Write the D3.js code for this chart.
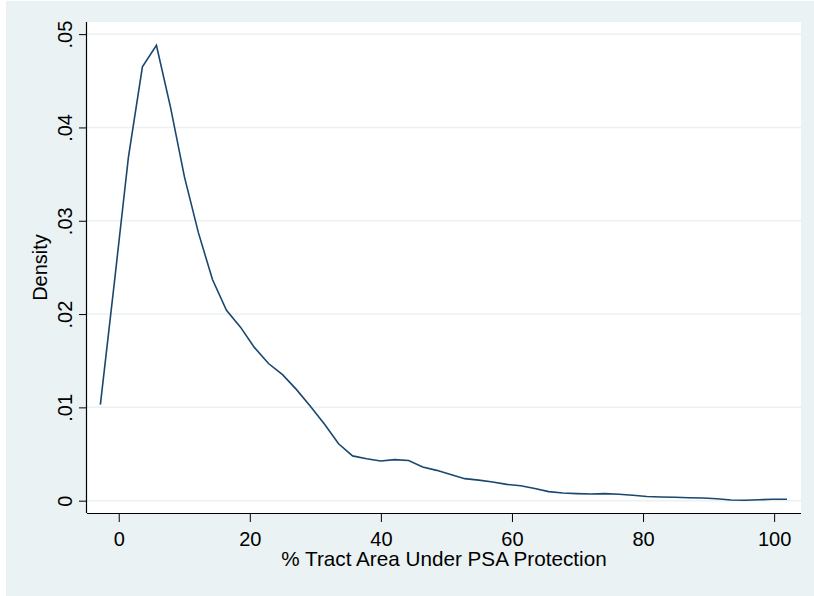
<!DOCTYPE html>
<html>
<head>
<meta charset="utf-8">
<script src="https://cdn.jsdelivr.net/npm/d3@7"></script>
<style>
  html, body { margin: 0; padding: 0; background: #ffffff; }
  svg { display: block; }
  text { font-family: Arial, "Liberation Sans", sans-serif; fill: #000; }
</style>
</head>
<body>
<svg id="chart" width="814" height="596"></svg>
<script>
// Kernel density of tract area share under PSA protection, 50 evaluation points
const xStart = -2.8;
const xEnd = 101.96;
const densityValues = [
  0.0103, 0.0234, 0.0368, 0.0465, 0.0488, 0.0422, 0.0347, 0.0287, 0.0237, 0.0204,
  0.0186, 0.0164, 0.0147, 0.0135, 0.0119, 0.0101, 0.0082, 0.0061, 0.0048, 0.0045,
  0.00425, 0.0044, 0.0043, 0.0036, 0.00325, 0.0028, 0.00236, 0.0022, 0.0020, 0.00175,
  0.0016, 0.0013, 0.00097, 0.00083, 0.00076, 0.00072, 0.00076, 0.00069, 0.00058, 0.00045,
  0.0004, 0.00036, 0.00032, 0.00029, 0.00021, 0.00008, 0.00004, 0.0001, 0.00015, 0.00015
];
const xTicks = [0, 20, 40, 60, 80, 100];
const yTicks = [0, 0.01, 0.02, 0.03, 0.04, 0.05];
const yTickLabels = ["0", ".01", ".02", ".03", ".04", ".05"];
const xTitle = "% Tract Area Under PSA Protection";
const yTitle = "Density";

const step = (xEnd - xStart) / (densityValues.length - 1);
const points = densityValues.map((d, i) => ({ x: xStart + i * step, y: d }));

const svg = d3.select("#chart");
const W = 814, H = 596;
const plot = { left: 87, right: 801, top: 22, bottom: 513 };
const font = "Arial, 'Liberation Sans', sans-serif";

// graph region background
svg.append("rect").attr("x", 6).attr("y", 1).attr("width", W - 6).attr("height", H - 1)
  .attr("fill", "#eaf2f3");
// plot region
svg.append("rect").attr("x", plot.left).attr("y", plot.top)
  .attr("width", plot.right - plot.left).attr("height", plot.bottom - plot.top)
  .attr("fill", "#ffffff");

const x = d3.scaleLinear().domain([-4.84, 104.1]).range([plot.left, plot.right]);
const y = d3.scaleLinear().domain([-0.00132, 0.0513]).range([plot.bottom, plot.top]);

// horizontal gridlines
svg.append("g").selectAll("line").data(yTicks).join("line")
  .attr("x1", plot.left).attr("x2", plot.right)
  .attr("y1", d => y(d)).attr("y2", d => y(d))
  .attr("stroke", "#eaf2f3").attr("stroke-width", 1.5);

// density curve
const line = d3.line().x(d => x(d.x)).y(d => y(d.y));
svg.append("path").datum(points)
  .attr("d", line)
  .attr("fill", "none")
  .attr("stroke", "#1a476f")
  .attr("stroke-width", 1.6)
  .attr("stroke-linejoin", "miter");

// x axis
const xAxis = d3.axisBottom(x).tickValues(xTicks).tickSize(9).tickFormat(d3.format("d"));
const gx = svg.append("g").attr("transform", `translate(0,${plot.bottom})`).call(xAxis);
gx.select(".domain").attr("d", `M${plot.left},0.5H${plot.right}`).attr("stroke", "#000").attr("stroke-width", 1.2);
gx.selectAll(".tick line").attr("stroke", "#000").attr("stroke-width", 1);
gx.selectAll(".tick text")
  .attr("y", 33).attr("dy", null)
  .attr("font-size", 20).attr("font-family", font).attr("fill", "#000");

// y axis with rotated labels
const yAxis = d3.axisLeft(y).tickValues(yTicks).tickSize(8).tickFormat((d, i) => yTickLabels[i]);
const gy = svg.append("g").attr("transform", `translate(${plot.left},0)`).call(yAxis);
gy.select(".domain").attr("d", `M-0.5,${plot.top}V${plot.bottom}`).attr("stroke", "#000").attr("stroke-width", 1.2);
gy.selectAll(".tick line").attr("stroke", "#000").attr("stroke-width", 1);
gy.selectAll(".tick text")
  .attr("x", null).attr("dy", null)
  .attr("transform", "translate(-15.3,0) rotate(-90)")
  .attr("text-anchor", "middle")
  .attr("font-size", 20).attr("font-family", font).attr("fill", "#000");

// axis titles
svg.append("text")
  .attr("x", (plot.left + plot.right) / 2).attr("y", 566)
  .attr("text-anchor", "middle").attr("font-size", 20.7)
  .text(xTitle);
svg.append("text")
  .attr("transform", `translate(46.7,${(plot.top + plot.bottom) / 2}) rotate(-90)`)
  .attr("text-anchor", "middle").attr("font-size", 20)
  .text(yTitle);
</script>
</body>
</html>
